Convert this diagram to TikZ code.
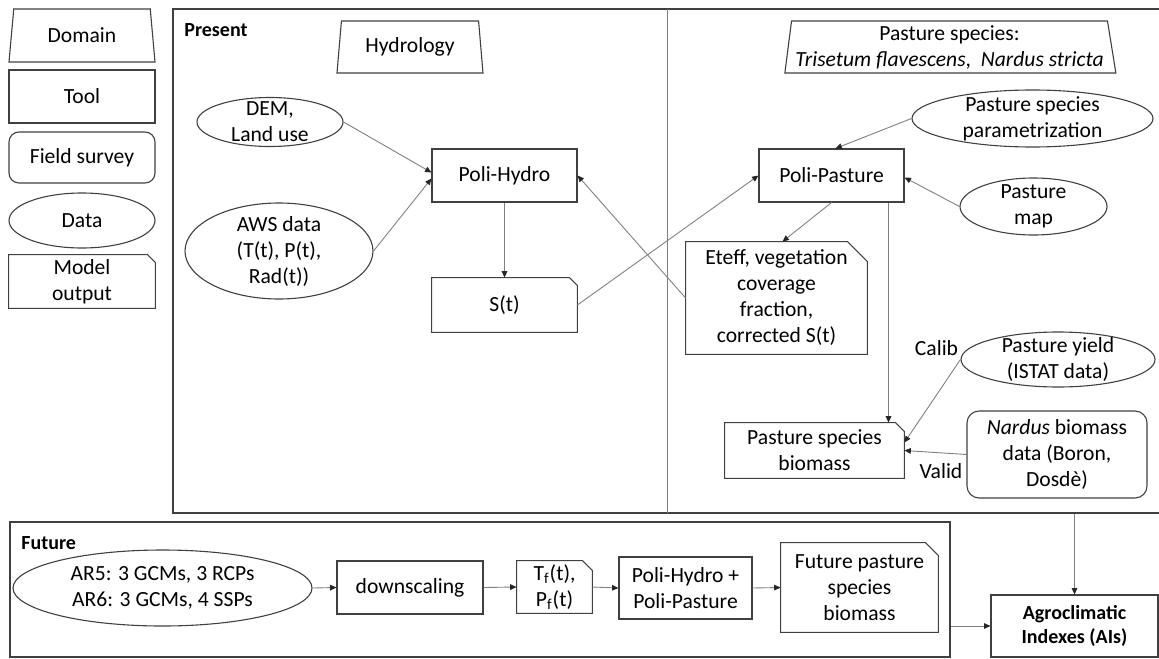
\documentclass[tikz,border=0pt]{standalone}
\usepackage{fontspec}
\setmainfont{Carlito}
\usetikzlibrary{shapes.geometric,arrows.meta,positioning}
\definecolor{lineg}{HTML}{404040}
\definecolor{arrg}{HTML}{808080}
\tikzset{
  tool style/.style={rectangle, draw=lineg, line width=0.55pt, inner sep=1pt, align=center},
  data style/.style={ellipse, draw=lineg, line width=0.55pt, inner xsep=-8pt, inner ysep=-3pt, align=center},
  out style/.style={rectangle, inner sep=1pt, align=center,
    append after command={\pgfextra{\draw[lineg, line width=0.55pt]
      (\tikzlastnode.south west) |- ([xshift=-#1]\tikzlastnode.north east)
      -- ([yshift=-#1]\tikzlastnode.north east) -- (\tikzlastnode.south east) -- cycle;}}},
  out style/.default=4pt,
  field style/.style={rectangle, rounded corners=5pt, draw=lineg, line width=0.55pt, inner sep=1pt, align=center},
  dom style/.style={trapezium, trapezium stretches body, trapezium left angle=78, trapezium right angle=78,
    draw=lineg, line width=0.55pt, inner sep=1pt, align=center},
  frame style/.style={rectangle, draw=lineg, line width=1pt, inner sep=0pt},
  arr style/.style={-{Triangle[length=3.2pt,width=2.8pt,color=black!85]}, draw=arrg, line width=0.45pt},
  lbl style/.style={inner sep=0pt}
}

\begin{document}
\begin{tikzpicture}[x=0.5pt, y=-0.5pt, font=\fontsize{10.8}{13}\selectfont]
\useasboundingbox (0,0) rectangle (1159,658);

% legend
\node[dom style, minimum width=73pt, minimum height=26.5pt, trapezium left angle=76, trapezium right angle=76] (legdom) at (82,35.5) {Domain};
\node[tool style, minimum width=73pt, minimum height=26.5pt] (legtool) at (82,96.5) {Tool};
\node[field style, minimum width=73pt, minimum height=25.5pt] (legfield) at (82,157.5) {Field survey};
\node[data style, minimum width=73pt, minimum height=27.5pt] (legdata) at (82,220.5) {Data};
\node[out style, minimum width=73pt, minimum height=26.5pt] (legout) at (82,281.5) {Model\\output};

% frames
\node[frame style, minimum width=494.5pt, minimum height=252pt] (present) at (667.5,261) {};
\node[frame style, minimum width=470pt, minimum height=67.5pt] (future) at (480,589.5) {};
\draw[draw=arrg, line width=0.5pt] (667,9) -- (667,513);
\node[lbl style, anchor=base west, font=\bfseries] (presentlbl) at (184,36.5) {Present};
\node[lbl style, anchor=base west, font=\bfseries] (futurelbl) at (21,549.5) {Future};

% present - hydrology
\node[dom style, minimum width=73pt, minimum height=26pt, trapezium left angle=79, trapezium right angle=79] (hydro) at (410,47) {Hydrology};
\node[data style, minimum width=73pt, minimum height=24.5pt] (dem) at (270,122) {DEM,\\Land use};
\node[data style, minimum width=94pt, minimum height=48pt] (aws) at (279,251) {AWS data\\(T(t), P(t),\\Rad(t))};
\node[tool style, minimum width=72.5pt, minimum height=26.5pt] (ph) at (504.5,175.5) {Poli-Hydro};
\node[out style, minimum width=72.5pt, minimum height=27pt] (st) at (504.5,305) {S(t)};

% present - pasture
\node[dom style, minimum width=165.5pt, minimum height=26pt, trapezium left angle=82, trapezium right angle=80] (pasture) at (949.5,47)
  {Pasture species:\\\textit{Trisetum flavescens},\ \ \textit{Nardus stricta}};
\node[data style, minimum width=120.5pt, minimum height=28.5pt] (param) at (1032.5,118.5) {Pasture species\\parametrization};
\node[tool style, minimum width=72.5pt, minimum height=26.5pt] (pp) at (831.5,175.5) {Poli-Pasture};
\node[data style, minimum width=73.5pt, minimum height=28.5pt] (pmap) at (1033.5,206.5) {Pasture\\map};
\node[out style=10pt, minimum width=90.5pt, minimum height=56pt] (eteff) at (776.5,298)
  {Eteff, vegetation\\coverage\\fraction,\\corrected S(t)};
\node[data style, minimum width=97pt, minimum height=27.5pt] (yield) at (1058,359.5) {Pasture yield\\(ISTAT data)};
\node[field style, minimum width=90pt, minimum height=43.5pt, rounded corners=6pt] (nardus) at (1057,454.5)
  {\textit{Nardus} biomass\\data (Boron,\\Dosdè)};
\node[out style=4.5pt, minimum width=89.5pt, minimum height=27.5pt] (bio) at (814.5,450.5)
  {Pasture species\\biomass};
\node[lbl style, anchor=base] (calib) at (936.5,355) {Calib};
\node[lbl style, anchor=base] (valid) at (941,478) {Valid};

\draw[arr style] (dem.east) -- ([yshift=1.5pt]ph.west);
\draw[arr style] (aws.east) -- ([yshift=-1.5pt]ph.west);
\draw[arr style] (ph.south) -- (st.north);
\draw[arr style] (st.east) -- (pp.west);
\draw[arr style] (eteff.west) -- (ph.east);
\draw[arr style] (pp.south) -- ([xshift=3pt]eteff.north);
\draw[arr style] (param.west) -- ([xshift=2pt]pp.north);
\draw[arr style] (pmap.west) -- ([yshift=-1pt]pp.east);
\coordinate (ppdrop) at ([xshift=28.5pt]pp.south);
\draw[arr style] (ppdrop) -- (ppdrop |- bio.north);
\draw[arr style] (yield.west) -- ([yshift=4pt]bio.east);
\draw[arr style] (nardus.west) -- (bio.east);

% future
\node[data style, minimum width=149.5pt, minimum height=38pt] (ar) at (162.5,588) {AR5: 3 GCMs, 3 RCPs\\AR6: 3 GCMs, 4 SSPs};
\node[tool style, minimum width=73pt, minimum height=26.5pt] (down) at (410,587.5) {downscaling};
\node[out style=5pt, minimum width=37.5pt, minimum height=26pt] (tf) at (554.5,587)
  {T\textsubscript{f}(t),\\P\textsubscript{f}(t)};
\node[tool style, minimum width=66.5pt, minimum height=31pt] (phpp) at (685.5,588) {Poli-Hydro +\\Poli-Pasture};
\node[out style=6.5pt, minimum width=78.5pt, minimum height=44.5pt] (fpb) at (859.5,587.5)
  {Future pasture\\species\\biomass};
\node[tool style, minimum width=83.5pt, minimum height=31pt, font=\bfseries] (agro) at (1074.5,626) {Agroclimatic\\Indexes (AIs)};

\draw[arr style] (ar.east) -- (down.west);
\draw[arr style] (down.east) -- (tf.west);
\draw[arr style] (tf.east) -- (phpp.west);
\draw[arr style] (phpp.east) -- (fpb.west);
\draw[arr style] (agro.west -| future.east) -- (agro.west);
\draw[arr style] (agro.north |- present.south) -- (agro.north);

\end{tikzpicture}
\end{document}
